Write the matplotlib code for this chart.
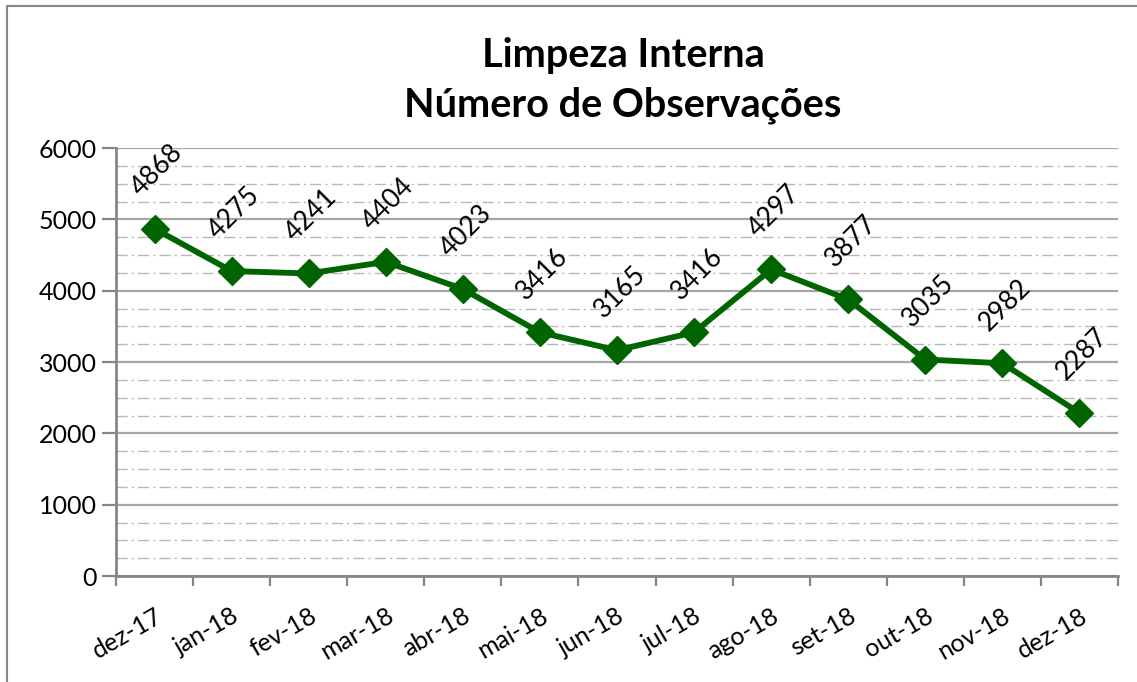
import matplotlib.pyplot as plt
import numpy as np
from matplotlib.lines import Line2D
from matplotlib.ticker import MultipleLocator

months = ["dez-17", "jan-18", "fev-18", "mar-18", "abr-18", "mai-18", "jun-18",
          "jul-18", "ago-18", "set-18", "out-18", "nov-18", "dez-18"]
observations = [4868, 4275, 4241, 4404, 4023, 3416, 3165, 3416, 4297, 3877, 3035, 2982, 2287]

green = "#006400"
grid_gray = "#a6a6a6"
axis_gray = "#868686"

plt.rcParams["font.family"] = ["Lato", "DejaVu Sans"]

fig = plt.figure(figsize=(11.37, 6.82), dpi=100)
ax = fig.add_axes([116 / 1137, 1 - 576 / 682, (1118 - 116) / 1137, (576 - 148) / 682])

x = np.arange(len(months))
ax.plot(x, observations, color=green, linewidth=4.2, marker="D", markersize=14,
        zorder=5, clip_on=False)

for xi, val in zip(x, observations):
    ax.annotate(str(val), (xi, val), xytext=(2, 42), textcoords="offset points",
                ha="center", va="center", rotation=45, fontsize=19, zorder=6)

ax.set_xlim(-0.5, len(months) - 0.5)
ax.set_ylim(0, 6000)

ax.yaxis.set_major_locator(MultipleLocator(1000))
ax.yaxis.set_minor_locator(MultipleLocator(250))
ax.grid(axis="y", which="major", color=grid_gray, linewidth=1.6, linestyle="-")
ax.grid(axis="y", which="minor", color="#b8b8b8", linewidth=1.0, linestyle=(0, (8, 3, 1.5, 3)))
ax.set_axisbelow(True)

ax.set_xticks(x)
ax.set_xticklabels(months, rotation=30, ha="right", va="top", rotation_mode="anchor", fontsize=18)
ax.tick_params(axis="x", which="major", length=0, pad=20)
ax.set_xticks(np.arange(-0.5, len(months)), minor=True)
ax.tick_params(axis="x", which="minor", length=7, width=1.6, color=axis_gray, direction="out")
ax.tick_params(axis="y", which="major", length=10, width=1.6, color=axis_gray, labelsize=18, pad=4)
ax.tick_params(axis="y", which="minor", length=0)

for side in ["top", "right"]:
    ax.spines[side].set_visible(False)
for side in ["left", "bottom"]:
    ax.spines[side].set_color(axis_gray)
    ax.spines[side].set_linewidth(2)

fig.text(623 / 1137, 1 - 55 / 682, "Limpeza Interna", ha="center", va="center",
         fontsize=28.5, fontweight="bold")
fig.text(623 / 1137, 1 - 105 / 682, "Número de Observações", ha="center", va="center",
         fontsize=28.5, fontweight="bold")

# outer chart frame (left and top edges)
fig.add_artist(Line2D([7 / 1137, 7 / 1137, 1.0], [0.0, 1 - 6 / 682, 1 - 6 / 682],
                      transform=fig.transFigure, color=axis_gray, linewidth=1.5))

fig.savefig("out.png", dpi=100)
